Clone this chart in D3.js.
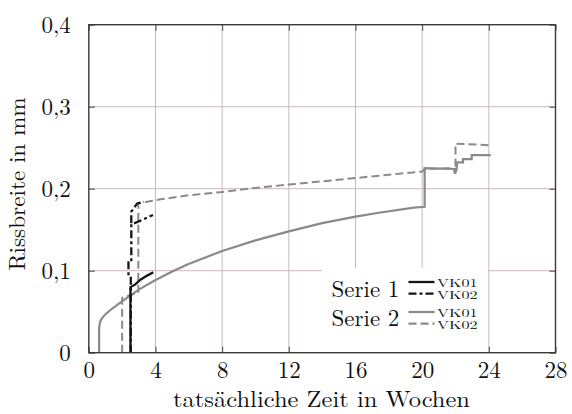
<!DOCTYPE html>
<html>
<head>
<meta charset="utf-8">
<script src="https://cdn.jsdelivr.net/npm/d3@7"></script>
<style>
  html, body { margin: 0; padding: 0; background: #fff; }
</style>
</head>
<body>
<svg id="chart" width="572" height="414"></svg>
<script>
// Rissbreite [mm] über der tatsächlichen Zeit [Wochen]
const xTicks = [0, 4, 8, 12, 16, 20, 24, 28];
const yTicks = [0, 0.1, 0.2, 0.3, 0.4];
const yTickLabels = ["0", "0,1", "0,2", "0,3", "0,4"];

// Serie 1, VK01 / VK02   ([Woche, Rissbreite])
const serie1VK01 = [[2.5, 0], [2.5, 0.08], [2.77, 0.083], [3.1, 0.089], [3.5, 0.094], [3.87, 0.098]];
const serie1VK02 = [[2.52, 0], [2.52, 0.093], [2.38, 0.094], [2.38, 0.11], [2.55, 0.11], [2.55, 0.157],
  [2.75, 0.158], [3.2, 0.162], [3.85, 0.168], null,
  [2.55, 0.158], [2.55, 0.172], [2.7, 0.176], [2.9, 0.182], [3.3, 0.184]];

// Serie 2, VK01 / VK02
const serie2VK01 = [[0.62, 0], [0.62, 0.03], [0.66, 0.036], [0.75, 0.041], [1.0, 0.047], [1.35, 0.053],
  [1.95, 0.062], [2.5, 0.07], [3.0, 0.077], [3.95, 0.088], [5, 0.099], [5.95, 0.108], [8, 0.124],
  [10, 0.137], [12, 0.148], [14, 0.158], [16, 0.166], [17.5, 0.171], [19.5, 0.177], [20.15, 0.178],
  [20.15, 0.225], [22.0, 0.224], [22.05, 0.221], [22.1, 0.232], [22.45, 0.232], [22.45, 0.236],
  [22.97, 0.236], [22.97, 0.241], [24.12, 0.241]];
const serie2VK02 = [[2.0, 0], [2.0, 0.067], [2.3, 0.069], [2.6, 0.071], [2.97, 0.073], [2.97, 0.182],
  [3.5, 0.184], [4.3, 0.187], [6, 0.192], [8, 0.196], [10, 0.201], [12, 0.205], [14, 0.209],
  [16, 0.213], [18, 0.217], [20, 0.221], [20.15, 0.224], [21.9, 0.225], [21.95, 0.219], [22.0, 0.219],
  [22.0, 0.255], [24.1, 0.253]];

const seriesNames = ["Serie 1", "Serie 2"];
const specimenNames = ["VK01", "VK02"];

const FONT = '"Latin Modern Roman", "CMU Serif", "Liberation Serif", serif';
const FS = 23;

const svg = d3.select("#chart");
const pLeft = 88.8, pRight = 555.5, pTop = 24.7, pBottom = 352.7;

const x = d3.scaleLinear().domain([0, 28]).range([pLeft, pRight]);
const y = d3.scaleLinear().domain([0, 0.4]).range([pBottom, pTop]);

const gridColor = "#cbb8bc";
const frameColor = "#3a3a3a";
const black = "#151515";
const grey = "#8a8a8a";
const dashBlack = "8,3,3,3";
const dashGrey = "8,4";

// Gitter
const grid = svg.append("g");
grid.selectAll("line.v").data(xTicks.slice(1, -1)).join("line")
  .attr("x1", d => x(d)).attr("x2", d => x(d)).attr("y1", pTop).attr("y2", pBottom)
  .attr("stroke", gridColor).attr("stroke-width", 1);
grid.selectAll("line.h").data(yTicks.slice(1, -1)).join("line")
  .attr("y1", d => y(d)).attr("y2", d => y(d)).attr("x1", pLeft).attr("x2", pRight)
  .attr("stroke", gridColor).attr("stroke-width", 1);

// Achsen mit nach innen zeigenden Strichen
const tickLen = 6;
const axB = svg.append("g").attr("transform", `translate(0,${pBottom})`)
  .call(d3.axisBottom(x).tickValues(xTicks).tickSize(-tickLen).tickPadding(9));
const axT = svg.append("g").attr("transform", `translate(0,${pTop})`)
  .call(d3.axisTop(x).tickValues(xTicks).tickSize(-tickLen).tickFormat(""));
const axL = svg.append("g").attr("transform", `translate(${pLeft},0)`)
  .call(d3.axisLeft(y).tickValues(yTicks).tickSize(-tickLen).tickPadding(18)
    .tickFormat((d, i) => yTickLabels[i]));
const axR = svg.append("g").attr("transform", `translate(${pRight},0)`)
  .call(d3.axisRight(y).tickValues(yTicks).tickSize(-tickLen).tickFormat(""));
[axB, axT, axL, axR].forEach(a => {
  a.select(".domain").remove();
  a.selectAll(".tick line").attr("stroke", "#555").attr("stroke-width", 1.1);
  a.selectAll(".tick text").style("font-family", FONT).style("font-size", FS + "px")
    .attr("fill", "#111");
});

// Legendenhintergrund
svg.append("rect").attr("x", 322).attr("y", 268)
  .attr("width", x(24) - 322 - 1).attr("height", pBottom - 268)
  .attr("fill", "#fff");

// Messkurven
const line = d3.line().defined(d => d !== null).x(d => x(d[0])).y(d => y(d[1]));
const styles = [
  { data: serie2VK01, color: grey, dash: null, w: 2.2 },
  { data: serie2VK02, color: grey, dash: dashGrey, w: 2.0 },
  { data: serie1VK01, color: black, dash: null, w: 2.3 },
  { data: serie1VK02, color: black, dash: dashBlack, w: 2.3 },
];
svg.append("g").selectAll("path").data(styles).join("path")
  .attr("d", d => line(d.data))
  .attr("fill", "none").attr("stroke", d => d.color).attr("stroke-width", d => d.w)
  .attr("stroke-dasharray", d => d.dash);

// Rahmen
svg.append("rect").attr("x", pLeft).attr("y", pTop)
  .attr("width", pRight - pLeft).attr("height", pBottom - pTop)
  .attr("fill", "none").attr("stroke", frameColor).attr("stroke-width", 1.4);

// Achsentitel
svg.append("text").attr("x", 321.5).attr("y", 407).attr("text-anchor", "middle")
  .style("font-family", FONT).style("font-size", FS + "px").attr("fill", "#111")
  .attr("textLength", 297).attr("lengthAdjust", "spacingAndGlyphs")
  .text("tatsächliche Zeit in Wochen");
svg.append("text").attr("transform", "translate(25,184) rotate(-90)").attr("text-anchor", "middle")
  .style("font-family", FONT).style("font-size", FS + "px").attr("fill", "#111")
  .attr("textLength", 173).attr("lengthAdjust", "spacingAndGlyphs")
  .text("Rissbreite in mm");

// Legende
const legend = svg.append("g");
const legendRows = [
  { spec: 0, color: black, dash: null, yLine: 282, yText: 286.8 },
  { spec: 1, color: black, dash: dashBlack, yLine: 293.7, yText: 298.6 },
  { spec: 0, color: grey, dash: null, yLine: 312, yText: 316.8 },
  { spec: 1, color: grey, dash: dashGrey, yLine: 323.7, yText: 328.6 },
];
legend.selectAll("line").data(legendRows).join("line")
  .attr("x1", 408.5).attr("x2", 434.5).attr("y1", d => d.yLine).attr("y2", d => d.yLine)
  .attr("stroke", d => d.color).attr("stroke-width", 2.3).attr("stroke-dasharray", d => d.dash);
legend.selectAll("text.spec").data(legendRows).join("text").attr("class", "spec")
  .attr("x", 437).attr("y", d => d.yText)
  .style("font-family", FONT).style("font-size", "10.8px").attr("fill", "#111")
  .attr("textLength", 40.5).attr("lengthAdjust", "spacingAndGlyphs")
  .text(d => specimenNames[d.spec]);
legend.selectAll("text.serie").data(seriesNames).join("text").attr("class", "serie")
  .attr("x", 331.5).attr("y", (d, i) => i === 0 ? 296.5 : 325.5)
  .style("font-family", FONT).style("font-size", FS + "px").attr("fill", "#111")
  .text(d => d);
</script>
</body>
</html>
